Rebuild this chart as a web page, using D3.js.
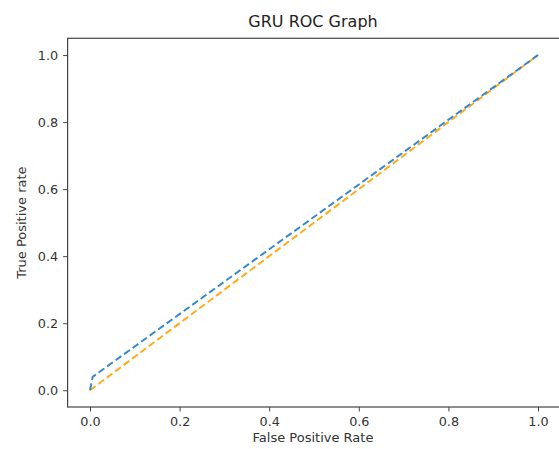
<!DOCTYPE html>
<html>
<head>
<meta charset="utf-8">
<script src="https://cdn.jsdelivr.net/npm/d3@7"></script>
<style>
  body { margin: 0; background: #fff; }
  svg { display: block; font-family: "DejaVu Sans", sans-serif; }
</style>
</head>
<body>
<div class="chart"></div>
<script>
const width = 559;
const height = 449;

// ROC of the GRU model
const gruFpr = [0, 0.006, 1];
const gruTpr = [0, 0.04, 1];
// chance line
const baseFpr = [0, 1];
const baseTpr = [0, 1];

const xTicks = [0, 0.2, 0.4, 0.6, 0.8, 1.0];
const yTicks = [0, 0.2, 0.4, 0.6, 0.8, 1.0];

const margin = { top: 38.3, right: -1.4, bottom: 42, left: 67.6 };

const svg = d3
  .select(".chart")
  .append("svg")
  .attr("width", width)
  .attr("height", height);

const x = d3.scaleLinear().domain([-0.05, 1.05]).range([margin.left, width - margin.right]);
const y = d3.scaleLinear().domain([-0.05, 1.05]).range([height - margin.bottom, margin.top]);

const line = d3.line().x((d) => x(d[0])).y((d) => y(d[1]));

// lines first, then the frame on top
svg.append("path")
  .datum(d3.zip(baseFpr, baseTpr))
  .attr("d", line)
  .attr("fill", "none")
  .attr("stroke", "#ffab1a")
  .attr("stroke-width", 2)
  .attr("stroke-dasharray", "7,3.5");

svg.append("path")
  .datum(d3.zip(gruFpr, gruTpr))
  .attr("d", line)
  .attr("fill", "none")
  .attr("stroke", "#3589cc")
  .attr("stroke-width", 2)
  .attr("stroke-dasharray", "7,3.5");

const xAxis = svg.append("g")
  .attr("transform", `translate(0,${height - margin.bottom})`)
  .call(d3.axisBottom(x).tickValues(xTicks).tickFormat(d3.format(".1f")).tickSizeInner(4.5).tickSizeOuter(0).tickPadding(5));

const yAxis = svg.append("g")
  .attr("transform", `translate(${margin.left},0)`)
  .call(d3.axisLeft(y).tickValues(yTicks).tickFormat(d3.format(".1f")).tickSizeInner(4.5).tickSizeOuter(0).tickPadding(5));

[xAxis, yAxis].forEach((g) => {
  g.selectAll("text").attr("font-size", "12.8px").attr("fill", "#333").attr("font-family", "DejaVu Sans");
  g.selectAll("line").attr("stroke", "#444");
  g.select(".domain").remove();
});

// frame
svg.append("rect")
  .attr("x", margin.left)
  .attr("y", margin.top)
  .attr("width", width - margin.right - margin.left)
  .attr("height", height - margin.bottom - margin.top)
  .attr("fill", "none")
  .attr("stroke", "#444")
  .attr("stroke-width", 1.2);

svg.append("text")
  .attr("x", 313)
  .attr("y", 27)
  .attr("text-anchor", "middle")
  .attr("font-size", "16px")
  .attr("fill", "#222")
  .text("GRU ROC Graph");

svg.append("text")
  .attr("x", 313)
  .attr("y", 442)
  .attr("text-anchor", "middle")
  .attr("font-size", "13px")
  .attr("fill", "#333")
  .text("False Positive Rate");

svg.append("text")
  .attr("transform", `translate(26,${y(0.5)}) rotate(-90)`)
  .attr("text-anchor", "middle")
  .attr("font-size", "13px")
  .attr("fill", "#333")
  .text("True Positive rate");
</script>
</body>
</html>
